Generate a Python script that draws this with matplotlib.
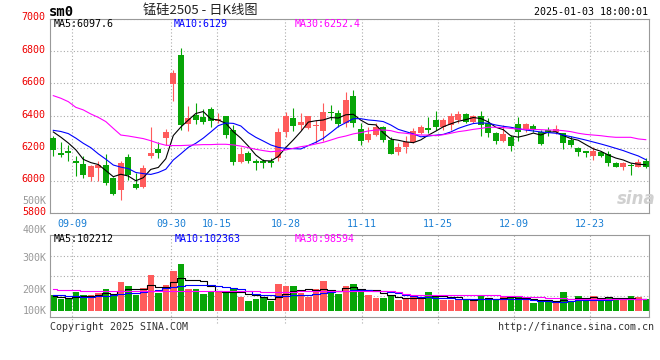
import matplotlib
matplotlib.use("Agg")
import matplotlib.pyplot as plt
import matplotlib.transforms as mtransforms
import numpy as np
import pandas as pd

plt.rcParams["font.family"] = ["DejaVu Sans Mono"]

# trading days shown (exchange closed on these week days)
holidays = ["2024-09-16", "2024-09-17", "2024-10-01", "2024-10-02", "2024-10-03",
            "2024-10-04", "2024-10-07", "2025-01-01"]
days = pd.bdate_range("2024-09-04", "2025-01-03")
days = days[~days.isin(pd.to_datetime(holidays))]

tick_labels = ["09-09", "09-30", "10-15", "10-28", "11-11", "11-25", "12-09", "12-23"]

opens = [6265, 6168, 6185, 6121, 6102, 6024, 6076, 6096, 6018, 5942,
         6148, 5979, 5962, 6152, 6195, 6265, 6596, 6775, 6349, 6405,
         6390, 6442, 6370, 6399, 6312, 6117, 6168, 6121, 6121, 6118,
         6141, 6302, 6384, 6343, 6322, 6339, 6308, 6425, 6415, 6357,
         6522, 6318, 6250, 6281, 6333, 6250, 6178, 6209, 6240, 6296,
         6327, 6374, 6333, 6343, 6374, 6411, 6364, 6399, 6357, 6296,
         6246, 6267, 6347, 6316, 6337, 6302, 6312, 6302, 6292, 6250,
         6203, 6182, 6152, 6178, 6164, 6111, 6086, 6096, 6086, 6121]
highs = [6275, 6240, 6220, 6152, 6152, 6095, 6121, 6164, 6025, 6121,
         6164, 6044, 6096, 6333, 6236, 6318, 6682, 6820, 6460, 6481,
         6440, 6456, 6415, 6400, 6343, 6209, 6185, 6131, 6131, 6137,
         6322, 6425, 6446, 6415, 6400, 6374, 6481, 6466, 6436, 6549,
         6559, 6357, 6333, 6353, 6339, 6271, 6230, 6275, 6322, 6340,
         6390, 6432, 6384, 6415, 6429, 6419, 6405, 6429, 6384, 6302,
         6343, 6281, 6390, 6357, 6349, 6312, 6333, 6343, 6296, 6275,
         6209, 6185, 6205, 6185, 6185, 6117, 6117, 6111, 6131, 6137]
lows = [6152, 6148, 6123, 6030, 6018, 5997, 5997, 5973, 5911, 5880,
        6004, 5948, 5952, 6137, 6141, 6220, 6493, 6312, 6308, 6347,
        6349, 6333, 6353, 6265, 6096, 6106, 6106, 6065, 6075, 6081,
        6123, 6271, 6308, 6312, 6316, 6230, 6246, 6374, 6333, 6333,
        6333, 6220, 6240, 6275, 6240, 6164, 6158, 6172, 6234, 6290,
        6292, 6312, 6312, 6312, 6357, 6353, 6357, 6275, 6271, 6226,
        6240, 6185, 6246, 6302, 6302, 6220, 6275, 6288, 6195, 6209,
        6152, 6148, 6127, 6148, 6090, 6081, 6065, 6034, 6081, 6075]
closes = [6189, 6158, 6168, 6106, 6034, 6090, 6096, 5983, 5915, 6111,
          6034, 5952, 6080, 6168, 6172, 6302, 6666, 6343, 6384, 6374,
          6364, 6370, 6378, 6281, 6117, 6164, 6123, 6106, 6106, 6108,
          6302, 6399, 6339, 6364, 6399, 6343, 6425, 6415, 6349, 6497,
          6357, 6246, 6288, 6333, 6250, 6164, 6209, 6240, 6308, 6333,
          6312, 6333, 6374, 6399, 6411, 6364, 6399, 6343, 6292, 6246,
          6288, 6213, 6302, 6347, 6316, 6226, 6302, 6316, 6230, 6220,
          6178, 6168, 6185, 6152, 6106, 6086, 6106, 6090, 6117, 6086]

ma5 = [6300, 6268, 6232, 6190, 6131, 6111, 6099, 6062, 6024, 6039,
       6028, 5999, 6018, 6069, 6081, 6135, 6278, 6330, 6373, 6414,
       6426, 6380, 6374, 6353, 6302, 6262, 6213, 6158, 6123, 6121,
       6149, 6204, 6251, 6302, 6361, 6369, 6374, 6389, 6386, 6406,
       6409, 6373, 6347, 6344, 6295, 6256, 6249, 6239, 6234, 6251,
       6280, 6305, 6332, 6350, 6366, 6376, 6389, 6383, 6362, 6329,
       6314, 6276, 6268, 6279, 6293, 6281, 6299, 6301, 6278, 6259,
       6249, 6222, 6196, 6181, 6158, 6139, 6127, 6108, 6101, 6097.6]
ma10 = [6310, 6303, 6290, 6262, 6230, 6203, 6165, 6132, 6096, 6083,
        6074, 6050, 6043, 6038, 6050, 6070, 6127, 6165, 6205, 6230,
        6262, 6300, 6339, 6355, 6353, 6337, 6296, 6267, 6244, 6220,
        6205, 6199, 6197, 6195, 6216, 6236, 6261, 6296, 6333, 6357,
        6382, 6382, 6374, 6370, 6364, 6343, 6316, 6302, 6288, 6270,
        6275, 6280, 6285, 6300, 6322, 6338, 6352, 6356, 6354, 6343,
        6335, 6329, 6320, 6312, 6306, 6300, 6296, 6292, 6281, 6271,
        6261, 6250, 6238, 6226, 6213, 6199, 6185, 6168, 6152, 6129]
ma30 = [6524, 6508, 6487, 6452, 6436, 6411, 6390, 6364, 6322, 6281,
        6275, 6267, 6259, 6246, 6230, 6218, 6216, 6216, 6218, 6220,
        6222, 6222, 6224, 6224, 6220, 6213, 6203, 6193, 6185, 6178,
        6182, 6189, 6199, 6209, 6216, 6226, 6236, 6250, 6265, 6275,
        6288, 6296, 6306, 6312, 6312, 6308, 6296, 6292, 6285, 6281,
        6281, 6277, 6283, 6292, 6302, 6308, 6316, 6322, 6329, 6329,
        6327, 6322, 6318, 6316, 6316, 6314, 6312, 6312, 6308, 6302,
        6292, 6285, 6281, 6277, 6271, 6267, 6267, 6267, 6257, 6252.4]

# volume in thousands of lots
vols = [136, 102, 102, 159, 136, 136, 150, 187, 130, 249,
        212, 136, 198, 306, 150, 221, 343, 399, 187, 187,
        144, 164, 164, 159, 193, 122, 85, 102, 108, 88,
        229, 212, 212, 150, 122, 187, 255, 164, 144, 212,
        229, 187, 136, 113, 113, 136, 93, 99, 122, 108,
        159, 136, 93, 93, 102, 102, 93, 130, 113, 93,
        127, 113, 122, 99, 71, 79, 88, 79, 164, 88,
        130, 102, 130, 108, 122, 93, 93, 130, 118, 99]
vma5 = [125, 118, 110, 115, 127, 127, 137, 154, 148, 170,
        186, 183, 185, 220, 200, 202, 244, 284, 260, 267,
        252, 216, 169, 164, 165, 160, 145, 132, 122, 101,
        122, 148, 170, 178, 185, 177, 185, 176, 174, 192,
        201, 187, 182, 175, 156, 137, 118, 111, 113, 112,
        116, 125, 124, 118, 117, 105, 97, 104, 108, 106,
        111, 115, 114, 111, 106, 97, 92, 83, 96, 100,
        110, 113, 123, 112, 118, 111, 109, 109, 106, 102]
vma10 = [136, 133, 130, 125, 122, 122, 125, 130, 138, 144,
         150, 156, 164, 173, 178, 195, 207, 215, 221, 221,
         221, 218, 212, 206, 198, 186, 170, 145, 138, 132,
         130, 130, 134, 136, 138, 148, 156, 164, 168, 173,
         175, 176, 175, 173, 170, 164, 150, 135, 124, 120,
         116, 112, 108, 108, 105, 100, 99, 99, 99, 99,
         99, 99, 99, 99, 93, 88, 82, 79, 80, 86,
         92, 93, 93, 95, 97, 99, 100, 101, 102, 102]
vma30 = [187, 180, 178, 175, 172, 172, 172, 172, 172, 172,
         172, 172, 172, 172, 172, 172, 172, 172, 172, 172,
         172, 172, 172, 172, 172, 172, 172, 170, 160, 159,
         159, 159, 159, 172, 173, 173, 173, 173, 173, 173,
         173, 173, 173, 173, 173, 173, 160, 145, 140, 138,
         136, 136, 136, 136, 136, 136, 136, 136, 136, 136,
         127, 127, 127, 116, 116, 116, 108, 108, 108, 99,
         99, 99, 99, 99, 99, 99, 99, 99, 99, 99]

RED, GREEN = "#FF5B5B", "#07A507"
GRID = dict(color="#AAAAAA", linestyle=(0, (1, 2)), linewidth=0.8)
W, H = 660, 360

x = np.arange(len(days))
o, c = np.array(opens), np.array(closes)
cols = np.where(c >= o, RED, GREEN)

# sina's grid slots are a touch wider than the candle slots
lab_idx = np.array([days.get_loc(pd.Timestamp("2024-" + t if t[:2] > "06" else "2025-" + t))
                    for t in tick_labels])
grid_x = -0.512 + 1.0151 * lab_idx


def box(l, t, r, b):
    return [l / W, 1 - b / H, (r - l) / W, (b - t) / H]


def put(px, py, s, **kw):
    kw.setdefault("va", "center")
    fig.text(px / W, 1 - py / H, s, **kw)


fig = plt.figure(figsize=(6.6, 3.6), dpi=100)
ax = fig.add_axes(box(50, 18.5, 649.3, 213))
axv = fig.add_axes(box(50, 235, 649.3, 317))

# candles
ax.vlines(x, lows, highs, colors=cols, linewidth=0.8, zorder=2)
ax.bar(x, np.maximum(np.abs(c - o), 6), bottom=np.minimum(o, c), width=0.82,
       color=cols, linewidth=0, zorder=3)
ax.plot(x, ma5, color="black", linewidth=0.8, zorder=4)
ax.plot(x, ma10, color="#0000FF", linewidth=0.8, zorder=4)
ax.plot(x, ma30, color="#FF00FF", linewidth=0.8, zorder=4)

ax.set_xlim(-0.44, 79.47)
ax.set_ylim(5800, 7000)
ax.set_yticks(range(5800, 7001, 200))
ax.yaxis.grid(True, **GRID)
ax.set_xticks(grid_x, tick_labels)
ax.xaxis.grid(True, **GRID)
ax.set_axisbelow(True)
ax.tick_params(axis="y", length=0, pad=3, labelsize=7.2, labelcolor="#EE0000")
ax.tick_params(axis="x", length=0, pad=4.5, labelsize=7.2, labelcolor="#1A7FD4")
shift = mtransforms.ScaledTranslation(0, 0.022, fig.dpi_scale_trans)
for lab in ax.get_yticklabels():
    lab.set_transform(lab.get_transform() + shift)

# volume
axv.bar(x, vols, width=0.87, color=cols, linewidth=0, zorder=2)
axv.plot(x, vma5, color="black", linewidth=0.8, drawstyle="steps-mid", zorder=3)
axv.plot(x, vma10, color="#0000FF", linewidth=0.8, drawstyle="steps-mid", zorder=3)
axv.plot(x, vma30, color="#FF00FF", linewidth=0.8, drawstyle="steps-mid", zorder=3)
axv.set_xlim(-0.44, 79.47)
axv.set_ylim(-51, 646)
axv.set_yticks([130, 300, 470])
axv.yaxis.grid(True, **GRID)
axv.set_xticks([])
axv.tick_params(axis="y", length=0, labelleft=False)
for gx in grid_x:
    axv.axvline(gx, ymin=-0.075, ymax=1, clip_on=False, zorder=1, **GRID)
axv.set_axisbelow(True)

for a in (ax, axv):
    for sp in a.spines.values():
        sp.set_color("#999999")
        sp.set_linewidth(0.8)

# header / legends
put(49, 12, "sm0", fontsize=10, fontweight="bold", ha="left")
put(200, 10, "锰硅2505 - 日K线图", fontsize=9.5, ha="center", color="#222222",
    family=["Noto Sans CJK SC", "DejaVu Sans"])
put(648, 12, "2025-01-03 18:00:01", fontsize=7.2, ha="right")
put(54, 24, "MA5:6097.6", fontsize=7.2, ha="left", color="black")
put(174, 24, "MA10:6129", fontsize=7.2, ha="left", color="#0000FF")
put(295, 24, "MA30:6252.4", fontsize=7.2, ha="left", color="#FF00FF")
put(54, 239, "MA5:102212", fontsize=7.2, ha="left", color="black")
put(175, 239, "MA10:102363", fontsize=7.2, ha="left", color="#0000FF")
put(295, 239, "MA30:98594", fontsize=7.2, ha="left", color="#FF00FF")

for py, s in [(201, "500K"), (230, "400K"), (258, "300K"), (290, "200K"), (311, "100K")]:
    put(46.5, py, s, fontsize=7.2, ha="right", color="#999999")

put(50, 327.5, "Copyright 2025 SINA.COM", fontsize=7.2, ha="left", color="#333333")
put(654, 327.5, "http://finance.sina.com.cn", fontsize=7.2, ha="right", color="#333333")
put(636, 199, "sina", fontsize=12, ha="center", color="#D0D0D0",
    fontweight="bold", fontstyle="italic", family=["DejaVu Sans"])

fig.savefig("out.png", dpi=100)
